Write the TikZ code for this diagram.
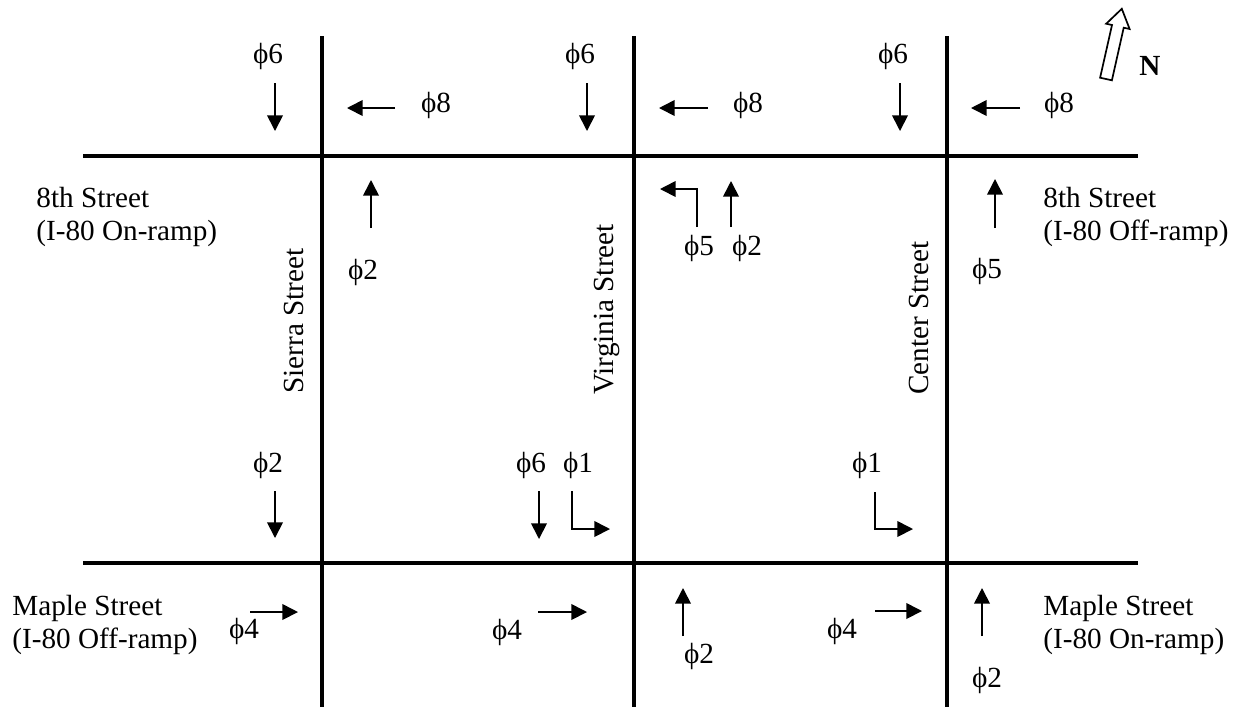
\documentclass[tikz,border=0pt]{standalone}
\usepackage{fontspec}
\setmainfont{Liberation Serif}
\usetikzlibrary{arrows.meta}
\tikzset{>={Triangle[length=7.8pt,width=7.8pt]}}
\tikzset{
  street/.style={line width=2.3pt},
  sig/.style={->, line width=0.85pt},
  lbl/.style={anchor=base, inner sep=0pt}
}

\begin{document}
\fontsize{14.6}{16.5}\selectfont
\begin{tikzpicture}[x=0.5pt,y=-0.5pt]
\useasboundingbox (0,0) rectangle (1235,709);
% streets
\coordinate (8w) at (83,156);
\coordinate (8e) at (1138,156);
\coordinate (mw) at (83,563);
\coordinate (me) at (1138,563);
\coordinate (sn) at (322,36);
\coordinate (ss) at (322,707);
\coordinate (vn) at (634,36);
\coordinate (vs) at (634,707);
\coordinate (cn) at (947,36);
\coordinate (cs) at (947,707);
\draw[street] (8w)--(8e);
\draw[street] (mw)--(me);
\draw[street] (sn)--(ss);
\draw[street] (vn)--(vs);
\draw[street] (cn)--(cs);
\node[anchor=base west, align=left, inner sep=0pt] (w8) at (36,240) {8th Street\\(I-80 On-ramp)};
\node[anchor=base west, align=left, inner sep=0pt] (e8) at (1043,240) {8th Street\\(I-80 Off-ramp)};
\node[anchor=base west, align=left, inner sep=0pt] (wmaple) at (12,648) {Maple Street\\(I-80 Off-ramp)};
\node[anchor=base west, align=left, inner sep=0pt] (emaple) at (1043,648) {Maple Street\\(I-80 On-ramp)};
\node[rotate=90, anchor=base west, inner sep=0pt] (sierra) at (303,394) {Sierra Street};
\node[rotate=90, anchor=base west, inner sep=0pt] (virginia) at (613,395) {Virginia Street};
\node[rotate=90, anchor=base west, inner sep=0pt] (center) at (928,395) {Center Street};
% Sierra Street signals
\draw[sig] (275,83)--(275,131);
\node[lbl] (s6) at (268,63) {ϕ6};
\draw[sig] (395,108)--(347,108);
\node[lbl] (s8) at (436,112) {ϕ8};
\draw[sig] (371,228)--(371,180);
\node[lbl] (s2n) at (363,279) {ϕ2};
\draw[sig] (275,491)--(275,538);
\node[lbl] (s2s) at (268,472) {ϕ2};
\draw[sig] (250,612)--(298,612);
\node[lbl] (s4) at (244,638) {ϕ4};
% Virginia Street signals
\draw[sig] (587,83)--(587,131);
\node[lbl] (v6n) at (580,63) {ϕ6};
\draw[sig] (708,108)--(659,108);
\node[lbl] (v8) at (748,112) {ϕ8};
\draw[sig] (697,227)--(697,189)--(660,189);
\node[lbl] (v5) at (699,255) {ϕ5};
\draw[sig] (731,227)--(731,181);
\node[lbl] (v2n) at (747,255) {ϕ2};
\draw[sig] (539,491)--(539,539);
\node[lbl] (v6s) at (531,472) {ϕ6};
\draw[sig] (572,491)--(572,529)--(610,529);
\node[lbl] (v1) at (578,472) {ϕ1};
\draw[sig] (538,612)--(587,612);
\node[lbl] (v4) at (507,639) {ϕ4};
\draw[sig] (683,636)--(683,588);
\node[lbl] (v2s) at (699,663) {ϕ2};
% Center Street signals
\draw[sig] (900,83)--(900,131);
\node[lbl] (c6) at (893,63) {ϕ6};
\draw[sig] (1020,108)--(971,108);
\node[lbl] (c8) at (1059,112) {ϕ8};
\draw[sig] (995,228)--(995,179);
\node[lbl] (c5) at (987,278) {ϕ5};
\draw[sig] (875,492)--(875,529)--(913,529);
\node[lbl] (c1) at (867,472) {ϕ1};
\draw[sig] (875,611)--(922,611);
\node[lbl] (c4) at (842,638) {ϕ4};
\draw[sig] (982,636)--(982,588);
\node[lbl] (c2) at (987,687) {ϕ2};
% north arrow
\draw[line width=0.85pt] (1100.1,77.7)--(1111.9,80.3)--(1123.7,27.7)--(1129.6,29.0)--(1121.8,8.8)--(1106.2,23.7)--(1112.0,25.0)--cycle;
\node[lbl, font=\bfseries] (north) at (1150,75) {N};
\end{tikzpicture}
\end{document}
